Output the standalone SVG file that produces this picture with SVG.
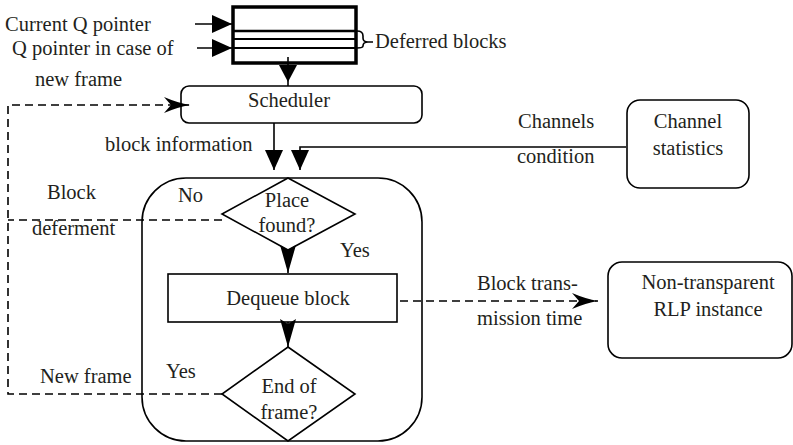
<svg xmlns="http://www.w3.org/2000/svg" width="793" height="445" viewBox="0 0 793 445">
<style>
text{font-family:"Liberation Serif","Liberation Sans",Arial,sans-serif;font-size:20.5px;fill:#231f20}
.m{text-anchor:middle}
.s{fill:none;stroke:#000;stroke-width:1.6}
.d{fill:none;stroke:#000;stroke-width:1.6;stroke-dasharray:8,5}
.n{fill:#fff;stroke:#000;stroke-width:1.6}
</style>
<defs>
<marker id="tri" markerUnits="userSpaceOnUse" viewBox="-22 -10 24 20" refX="0" refY="0" markerWidth="24" markerHeight="20" orient="auto">
<path d="M0,0 L-20,-9 L-20,9 Z" fill="#000"/>
</marker>
<marker id="stl" markerUnits="userSpaceOnUse" viewBox="-30 -10 32 20" refX="0" refY="0" markerWidth="32" markerHeight="20" orient="auto">
<path d="M0,0 Q-12,-2 -26,-8 L-19,0 L-26,8 Q-12,2 0,0 Z" fill="#000"/>
</marker>
<marker id="ntc" markerUnits="userSpaceOnUse" viewBox="-32 -10 34 20" refX="0" refY="0" markerWidth="34" markerHeight="20" orient="auto">
<path d="M0,0 L-28,-8 L-23,0 L-28,8 Z" fill="#000"/>
</marker>
</defs>

<g id="queue">
<rect x="233" y="7" width="123" height="56" fill="#fff" stroke="#000" stroke-width="3.5"/>
<line x1="233" y1="31" x2="356" y2="31" stroke="#000" stroke-width="2.5"/>
<line x1="233" y1="39" x2="356" y2="39" stroke="#000" stroke-width="1.8"/>
<line x1="233" y1="48" x2="356" y2="48" stroke="#000" stroke-width="1.8"/>
<path class="s" d="M357,31 Q363,31 363,36 L363,38 Q363,42 368,42 L373,42 M368,42 Q363,42 363,46 Q363,48 357,48"/>
<text x="375" y="48">Deferred blocks</text>
</g>

<g id="scheduler">
<rect class="n" x="181" y="86" width="241" height="37" rx="8"/>
<text class="m" x="289" y="107">Scheduler</text>
</g>

<g id="channel-statistics">
<rect class="n" x="627" y="100" width="122" height="88" rx="13"/>
<text class="m" x="688" y="128">Channel</text>
<text class="m" x="688" y="155">statistics</text>
</g>

<g id="container">
<rect class="s" x="142" y="178" width="280" height="263" rx="44"/>
</g>

<g id="place-found">
<polygon class="n" points="288,178 355,214 288,250 222,214"/>
<text class="m" x="287" y="207">Place</text>
<text class="m" x="287" y="232">found?</text>
</g>

<g id="dequeue">
<rect class="n" x="168" y="274" width="229" height="48"/>
<text class="m" x="288" y="305">Dequeue block</text>
</g>

<g id="end-of-frame">
<polygon class="n" points="288,347 355,394 288,441 222,394"/>
<text class="m" x="289" y="393">End of</text>
<text class="m" x="289" y="419">frame?</text>
</g>

<g id="rlp">
<rect class="n" x="608" y="262" width="184" height="96" rx="14"/>
<text class="m" x="708" y="289">Non-transparent</text>
<text class="m" x="708" y="316">RLP instance</text>
</g>

<g id="connectors">
<line class="s" x1="195" y1="24" x2="232" y2="24" marker-end="url(#tri)"/>
<line class="s" x1="197" y1="48" x2="232" y2="48" marker-end="url(#tri)"/>
<line class="s" x1="288" y1="57" x2="288" y2="86"/>
<path d="M288,82 L279,65 L297,65 Z" fill="#000"/>
<line class="s" x1="274" y1="123" x2="274" y2="170" marker-end="url(#tri)"/>
<polyline class="s" points="626,147 300,147 300,170" marker-end="url(#tri)"/>
<line class="s" x1="288" y1="250" x2="288" y2="273" marker-end="url(#ntc)"/>
<line class="s" x1="288" y1="322" x2="288" y2="347" marker-end="url(#ntc)"/>
<polyline class="d" points="222,220 8,220"/>
<polyline class="d" points="222,394 8,394 8,105 190,105" marker-end="url(#stl)"/>
<line class="d" x1="400" y1="301" x2="598" y2="301" marker-end="url(#stl)"/>
</g>

<g id="labels">
<text x="5" y="31">Current Q pointer</text>
<text x="12" y="55">Q pointer in case of</text>
<text x="35" y="86">new frame</text>
<text x="105" y="151">block information</text>
<text x="518" y="128">Channels</text>
<text x="517" y="163">condition</text>
<text x="178" y="202">No</text>
<text x="47" y="199">Block</text>
<text x="32" y="235">deferment</text>
<text x="340" y="257">Yes</text>
<text x="477" y="290">Block trans-</text>
<text x="477" y="325">mission time</text>
<text x="166" y="378">Yes</text>
<text x="40" y="383">New frame</text>
</g>
</svg>
